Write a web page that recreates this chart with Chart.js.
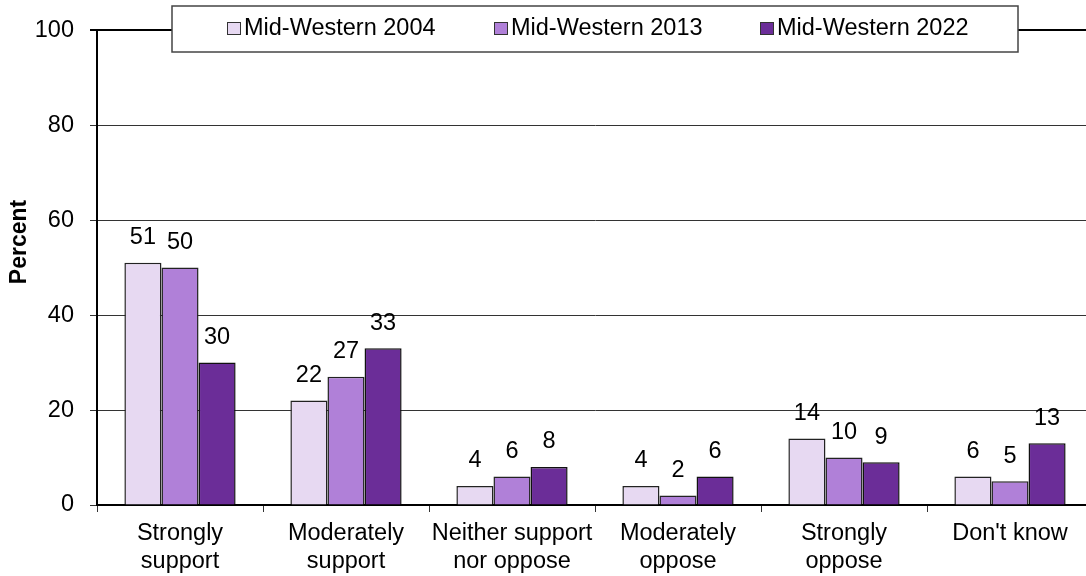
<!DOCTYPE html>
<html>
<head>
<meta charset="utf-8">
<script src="https://cdn.jsdelivr.net/npm/chart.js@4"></script>
<style>
html, body { margin: 0; padding: 0; background: #fff; overflow: hidden; }
#wrap { width: 1086px; height: 576px; overflow: hidden; }
</style>
</head>
<body>
<div id="wrap"><canvas id="chart" width="1093" height="576"></canvas></div>
<script>
var categories = [['Strongly', 'support'], ['Moderately', 'support'], ['Neither support', 'nor oppose'],
    ['Moderately', 'oppose'], ['Strongly', 'oppose'], ["Don't know"]];
var seriesNames = ['Mid-Western 2004', 'Mid-Western 2013', 'Mid-Western 2022'];
var values2004 = [51, 22, 4, 4, 14, 6];
var values2013 = [50, 27, 6, 2, 10, 5];
var values2022 = [30, 33, 8, 6, 9, 13];
var yTicks = [0, 20, 40, 60, 80, 100];
var yTitle = 'Percent';

var seriesColors = ['#e7d9f2', '#b080d8', '#6b2d98'];
var seriesBorders = ['#222', '#222', '#111'];
var fontFamily = '"Liberation Sans", Arial, sans-serif';
var fontSize = 23.5;

// numbers sitting above each bar
var valueLabels = {
    id: 'valueLabels',
    afterDatasetsDraw: function(chart) {
        var ctx = chart.ctx;
        ctx.save();
        ctx.font = fontSize + 'px ' + fontFamily;
        ctx.fillStyle = '#000';
        ctx.textAlign = 'center';
        ctx.textBaseline = 'middle';
        chart.data.datasets.forEach(function(ds, i) {
            chart.getDatasetMeta(i).data.forEach(function(bar, j) {
                ctx.fillText(ds.data[j], bar.x, bar.y - 25);
            });
        });
        ctx.restore();
    }
};

// framed legend laid over the top of the plot, plus the rotated axis title
var boxedLegend = {
    id: 'boxedLegend',
    afterDraw: function(chart) {
        var ctx = chart.ctx;
        var area = chart.chartArea;
        var boxW = 846, boxH = 46, top = 6;
        var left = Math.round((area.left + area.right) / 2 - boxW / 2);
        ctx.save();
        ctx.fillStyle = '#fff';
        ctx.fillRect(left, top, boxW, boxH);
        ctx.strokeStyle = '#444';
        ctx.lineWidth = 1.5;
        ctx.strokeRect(left, top, boxW, boxH);

        ctx.font = fontSize + 'px ' + fontFamily;
        ctx.textAlign = 'left';
        ctx.textBaseline = 'middle';
        chart.data.datasets.forEach(function(ds, i) {
            var x = Math.round(left + 55 + i * 266.5);
            ctx.fillStyle = ds.backgroundColor;
            ctx.fillRect(x, 22, 13, 12);
            ctx.strokeStyle = '#333';
            ctx.lineWidth = 1;
            ctx.strokeRect(x + 0.5, 22.5, 13, 12);
            ctx.fillStyle = '#000';
            ctx.fillText(ds.label, x + 17, 28.5);
        });

        ctx.translate(20, 242);
        ctx.rotate(-Math.PI / 2);
        ctx.font = 'bold 23px ' + fontFamily;
        ctx.textAlign = 'center';
        ctx.fillText(yTitle, 0, 0);
        ctx.restore();
    }
};

var seriesData = [values2004, values2013, values2022];
var datasets = seriesNames.map(function(name, i) {
    return {
        label: name,
        data: seriesData[i],
        backgroundColor: seriesColors[i],
        borderColor: seriesBorders[i],
        borderWidth: 1.5,
        borderSkipped: 'bottom',
        categoryPercentage: 0.67,
        barPercentage: 1.0
    };
});

new Chart(document.getElementById('chart'), {
    type: 'bar',
    data: { labels: categories, datasets: datasets },
    options: {
        responsive: false,
        animation: false,
        devicePixelRatio: 1,
        layout: { padding: { top: 29, left: 0, right: 0, bottom: 0 } },
        plugins: {
            legend: { display: false },
            tooltip: { enabled: false }
        },
        scales: {
            x: {
                grid: {
                    offset: true,
                    drawOnChartArea: false,
                    tickLength: 7,
                    color: '#333',
                    lineWidth: 1
                },
                border: { color: '#000', width: 2 },
                ticks: {
                    color: '#000',
                    padding: 8,
                    maxRotation: 0,
                    autoSkip: false,
                    font: { family: fontFamily, size: fontSize, lineHeight: 1.18 }
                },
                afterFit: function(scale) { scale.height = 71; }
            },
            y: {
                min: 0,
                max: 100,
                afterBuildTicks: function(scale) {
                    scale.ticks = yTicks.map(function(v) { return { value: v }; });
                },
                grid: {
                    tickLength: 7,
                    color: function(c) { return c.tick && c.tick.value === 100 ? '#000' : '#333'; },
                    lineWidth: function(c) { return c.tick && c.tick.value === 100 ? 2 : 1; }
                },
                border: { color: '#000', width: 2 },
                ticks: {
                    color: '#000',
                    padding: 16,
                    font: { family: fontFamily, size: fontSize }
                },
                afterFit: function(scale) { scale.width = 97; }
            }
        }
    },
    plugins: [valueLabels, boxedLegend]
});
</script>
</body>
</html>
